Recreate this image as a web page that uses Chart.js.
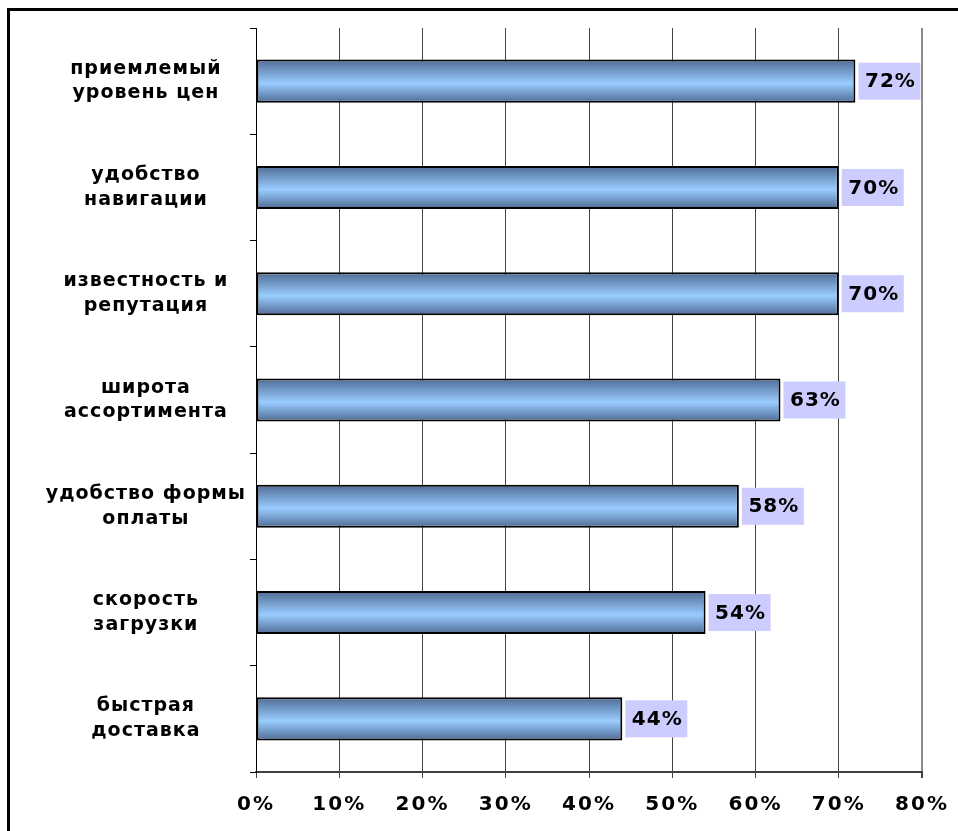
<!DOCTYPE html>
<html>
<head>
<meta charset="utf-8">
<script src="https://cdn.jsdelivr.net/npm/chart.js@4.4.1/dist/chart.umd.min.js"></script>
<style>
    html, body { margin: 0; padding: 0; background: #fff; overflow: hidden; }
    #wrap { position: relative; width: 958px; height: 831px; }
    #frame {
        position: absolute; left: 7px; top: 8px; width: 1000px; height: 900px;
        border-top: 3px solid #000; border-left: 3px solid #000; pointer-events: none;
    }
    canvas { position: absolute; left: 0; top: 0; }
</style>
</head>
<body>
<div id="wrap">
    <canvas id="mainChart" width="958" height="831"></canvas>
    <div id="frame"></div>
</div>
<script>
// categories, top to bottom
const categories = [
    ['приемлемый', 'уровень цен'],
    ['удобство', 'навигации'],
    ['известность и', 'репутация'],
    ['широта', 'ассортимента'],
    ['удобство формы', 'оплаты'],
    ['скорость', 'загрузки'],
    ['быстрая', 'доставка']
];
const values = [72, 70, 70, 63, 58, 54, 44];
const xTicks = [0, 10, 20, 30, 40, 50, 60, 70, 80];

const FONT = 'DejaVu Sans';

// canvas letter spacing gets reset with the canvas size, so set it per phase:
// y labels are drawn before the bars, x labels (ticks.z = 1) after them
const spacingPlugin = {
    id: 'spacing',
    beforeLayout(chart) { chart.ctx.letterSpacing = '1px'; },
    beforeDraw(chart) { chart.ctx.letterSpacing = '1px'; },
    afterDatasetsDraw(chart) { chart.ctx.letterSpacing = '2px'; }
};

// lavender value boxes to the right of each bar
const valueBoxes = {
    id: 'valueBoxes',
    afterDatasetsDraw(chart) {
        const c = chart.ctx;
        const meta = chart.getDatasetMeta(0);
        c.save();
        c.letterSpacing = '1px';
        c.font = `bold 20px "${FONT}"`;
        c.textAlign = 'center';
        c.textBaseline = 'middle';
        meta.data.forEach((bar, i) => {
            const x = bar.x + 3;
            const w = 62, h = 37;
            c.fillStyle = '#ccccff';
            c.fillRect(x, bar.y - h / 2, w, h);
            c.fillStyle = '#000';
            c.fillText(values[i] + '%', x + w / 2 + 1, bar.y + 1);
        });
        c.restore();
    }
};

function barGradient(context) {
    const chart = context.chart;
    const y = chart.scales.y;
    if (!y || context.dataIndex === undefined) return '#99ccff';
    const step = Math.abs(y.getPixelForValue(1) - y.getPixelForValue(0));
    const mid = y.getPixelForValue(context.dataIndex);
    const h = step * 0.405;
    if (!isFinite(mid) || !isFinite(h) || h <= 0) return '#99ccff';
    const g = chart.ctx.createLinearGradient(0, mid - h / 2, 0, mid + h / 2);
    g.addColorStop(0, '#4f6b94');
    g.addColorStop(0.55, '#99ccff');
    g.addColorStop(1, '#4f6b94');
    return g;
}

const canvasCtx = document.getElementById('mainChart').getContext('2d');
new Chart(canvasCtx, {
    type: 'bar',
    data: {
        labels: categories,
        datasets: [{
            data: values,
            backgroundColor: barGradient,
            borderColor: '#000',
            borderWidth: 2,
            borderSkipped: false,
            barPercentage: 0.405,
            categoryPercentage: 1
        }]
    },
    options: {
        indexAxis: 'y',
        responsive: false,
        animation: false,
        layout: { padding: { left: 0, top: 28, right: 36, bottom: 9 } },
        plugins: {
            legend: { display: false },
            tooltip: { enabled: false }
        },
        scales: {
            x: {
                min: 0,
                max: 80,
                afterBuildTicks: axis => { axis.ticks = xTicks.map(v => ({ value: v })); },
                afterFit: axis => {
                    axis.height = 50;
                    axis.paddingLeft = 0;
                    axis.paddingRight = 0;
                },
                grid: {
                    color: c => c.index === xTicks.length - 1 ? '#8c8c8c' : '#444',
                    lineWidth: c => c.index === xTicks.length - 1 ? 2 : 1,
                    tickColor: '#444',
                    tickLength: 6
                },
                border: { color: '#404040', width: 2 },
                ticks: {
                    z: 1,
                    color: '#000',
                    padding: 15,
                    maxRotation: 0,
                    font: { family: FONT, size: 20, weight: 'bold' },
                    callback: v => v + '%'
                }
            },
            y: {
                afterFit: axis => {
                    axis.width = 256;
                    axis.paddingTop = 0;
                    axis.paddingBottom = 0;
                },
                grid: {
                    drawOnChartArea: false,
                    tickLength: 6,
                    tickColor: '#000'
                },
                border: { color: '#000', width: 1 },
                ticks: {
                    color: '#000',
                    padding: 4,
                    crossAlign: 'center',
                    font: { family: FONT, size: 19, weight: 'bold', lineHeight: 1.3 }
                }
            }
        }
    },
    plugins: [spacingPlugin, valueBoxes]
});
</script>
</body>
</html>
